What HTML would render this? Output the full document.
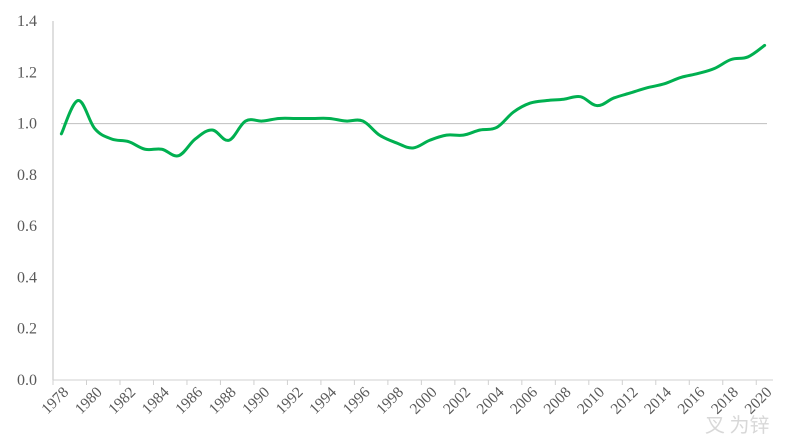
<!DOCTYPE html>
<html><head><meta charset="utf-8"><style>
html,body{margin:0;padding:0;background:#fff;}
svg{display:block;font-family:"Liberation Serif",serif;}
</style></head><body>
<svg id="s" width="800" height="440" viewBox="0 0 800 440" xmlns="http://www.w3.org/2000/svg"></svg>
<script>
const s=document.getElementById('s');
const d=[0.96,1.09,0.98,0.94,0.93,0.90,0.90,0.875,0.94,0.975,0.935,1.01,1.01,1.02,1.02,1.02,1.02,1.01,1.01,0.955,0.925,0.905,0.935,0.955,0.955,0.975,0.985,1.045,1.08,1.09,1.095,1.105,1.07,1.10,1.12,1.14,1.155,1.18,1.195,1.215,1.25,1.26,1.305];
const x0=53,x1=773,n=43,w=(x1-x0)/n;
const Y=v=>380-v*256.4;
let h='';
h+=`<line x1="53" y1="21" x2="53" y2="380" stroke="#bfbfbf"/>`;
h+=`<line x1="53" y1="380" x2="${x1}" y2="380" stroke="#d0d0d0"/>`;
for(let i=0;i<=7;i++){const v=i*0.2;h+=`<text x="37" y="${Y(v)+5}" text-anchor="end" font-size="16" fill="#595959">${v.toFixed(1)}</text>`;}
for(let i=0;i<=n;i+=2){const x=x0+i*w;h+=`<line x1="${x}" y1="380" x2="${x}" y2="385" stroke="#d0d0d0"/>`;}
for(let i=0;i<n;i+=2){const x=x0+(i+0.5)*w+8;h+=`<text transform="translate(${x},393) rotate(-45)" text-anchor="end" font-size="15.5" fill="#595959">${1978+i}</text>`;}
h+=`<line x1="61" y1="${Y(1)}" x2="767" y2="${Y(1)}" stroke="#bfbfbf"/>`;
const p=d.map((v,i)=>[x0+(i+0.5)*w,Y(v)]);
let path=`M${p[0][0]},${p[0][1]}`;
for(let i=0;i<p.length-1;i++){const a=p[Math.max(0,i-1)],b=p[i],c=p[i+1],e=p[Math.min(p.length-1,i+2)];
const t=0.18;
path+=` C${b[0]+(c[0]-a[0])*t},${b[1]+(c[1]-a[1])*t} ${c[0]-(e[0]-b[0])*t},${c[1]-(e[1]-b[1])*t} ${c[0]},${c[1]}`;}
h+=`<path d="${path}" fill="none" stroke="#00b050" stroke-width="3" stroke-linejoin="round" stroke-linecap="round"/>`;
h+=`<text x="705" y="432" font-size="20" fill="#c8c8c8" font-family="Noto Sans CJK SC,sans-serif" opacity="0.7">叉 为锌</text>`;
s.innerHTML=h;
</script>
</body></html>
